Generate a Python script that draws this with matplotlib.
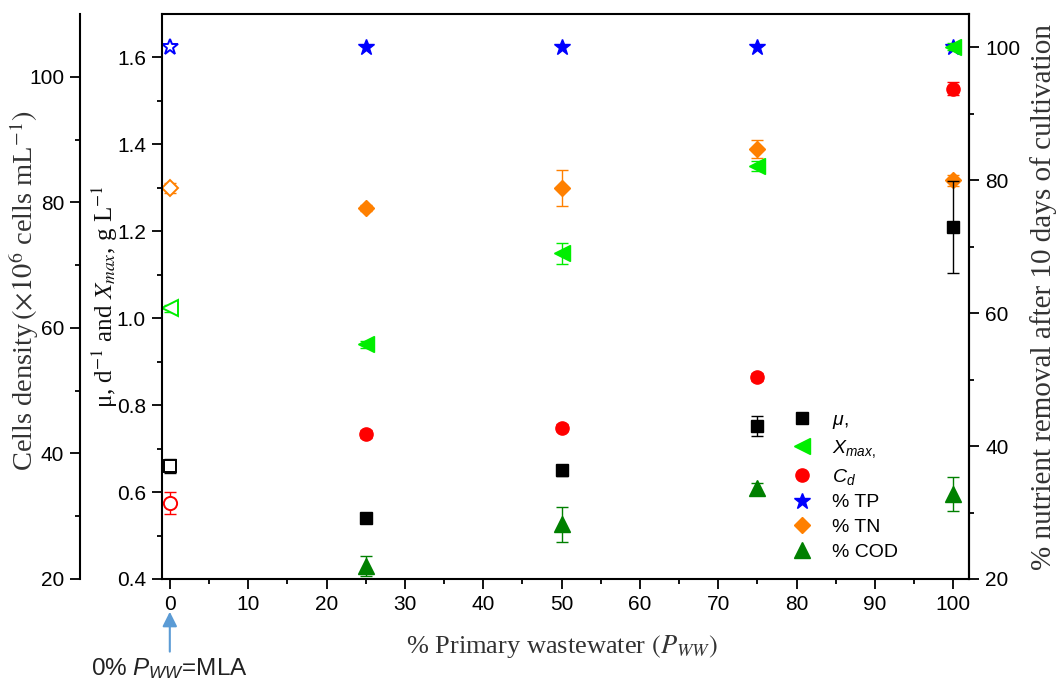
import numpy as np
import matplotlib
matplotlib.use('Agg')
import matplotlib.pyplot as plt
from matplotlib.ticker import MultipleLocator, FixedLocator

plt.rcParams['font.family'] = ['Liberation Sans', 'DejaVu Sans']
plt.rcParams['mathtext.fontset'] = 'custom'
plt.rcParams['mathtext.rm'] = 'Liberation Sans'
plt.rcParams['mathtext.it'] = 'Liberation Sans:italic'
plt.rcParams['mathtext.bf'] = 'Liberation Sans:bold'

# % primary wastewater in the medium (0 % = MLA)
pww = [0, 25, 50, 75, 100]

# specific growth rate, d-1
mu = [0.66, 0.54, 0.65, 0.752, 1.21]
mu_err = [0.016, 0.008, 0.012, 0.023, 0.105]

# maximum biomass, g L-1
xmax = [1.023, 0.94, 1.149, 1.35, 1.625]
xmax_err = [0.008, 0.008, 0.025, 0.012, 0.008]

# cell density, x10^6 cells mL-1
cd = [32.1, 43.1, 44.1, 52.2, 98.1]
cd_err = [1.7, 0.6, 0.6, 0.6, 1.0]

# nutrient removal after 10 days, %
tp = [100, 100, 100, 100, 100]
tn = [78.8, 75.8, 78.8, 84.7, 80.0]
tn_err = [0.8, 0.5, 2.7, 1.3, 0.8]
cod_x = [25, 50, 75, 100]
cod = [21.9, 28.2, 33.7, 32.8]
cod_err = [1.5, 2.6, 0.8, 2.6]

label_col = '#333333'
serif = ['Liberation Serif', 'DejaVu Serif']

fig = plt.figure(figsize=(10.6, 6.81), dpi=100)
fig.subplots_adjust(left=0.1528, right=0.9142, top=0.9794, bottom=0.1498)
ax = fig.add_subplot(111)
ax_cd = ax.twinx()
ax_pct = ax.twinx()


def draw(axis, x, y, err, marker, color, ms, label, hollow_first=True):
    if err is not None:
        axis.errorbar(x, y, yerr=err, fmt='none', ecolor=color, elinewidth=1,
                      capsize=4, capthick=1)
    start = 1 if hollow_first else 0
    h, = axis.plot(x[start:], y[start:], ls='none', marker=marker, color=color,
                   ms=ms, label=label)
    if hollow_first:
        axis.plot(x[:1], y[:1], ls='none', marker=marker, mfc='white', mec=color,
                  mew=1.4, ms=ms)
    return h


h_tp = draw(ax_pct, pww, tp, None, '*', '#0000ff', 12, '% TP')
h_tn = draw(ax_pct, pww, tn, tn_err, 'D', '#ff8000', 8.5, '% TN')
h_cod = draw(ax_pct, cod_x, cod, cod_err, '^', '#008000', 12, '% COD', hollow_first=False)
h_cd = draw(ax_cd, pww, cd, cd_err, 'o', '#ff0000', 9.5, '$C_d$')
h_x = draw(ax, pww, xmax, xmax_err, '<', '#00ee00', 11, '$X_{max,}$')
h_mu = draw(ax, pww, mu, mu_err, 's', '#000000', 8.5, r'$\mu,$')

# main axis on top so growth data sits over the removal markers
ax.set_zorder(ax_pct.get_zorder() + 1)
ax.patch.set_visible(False)

ax.set_xlim(-1, 102)
ax.xaxis.set_major_locator(MultipleLocator(10))
ax.xaxis.set_minor_locator(MultipleLocator(5))

ax.set_ylim(0.4, 1.7)
ax.yaxis.set_major_locator(FixedLocator(np.arange(0.4, 1.61, 0.2)))
ax.yaxis.set_minor_locator(FixedLocator(np.arange(0.5, 1.51, 0.2)))
ax.yaxis.set_major_formatter(plt.FuncFormatter(lambda v, p: f'{v:.1f}'))

ax_cd.set_ylim(20, 110)
ax_cd.yaxis.set_major_locator(FixedLocator([20, 40, 60, 80, 100]))
ax_cd.yaxis.set_minor_locator(FixedLocator([30, 50, 70, 90]))
ax_cd.spines['left'].set_position(('outward', 59))
ax_cd.yaxis.tick_left()
ax_cd.yaxis.set_label_position('left')
for s in ['right', 'top', 'bottom']:
    ax_cd.spines[s].set_visible(False)

ax_pct.set_ylim(20, 105)
ax_pct.yaxis.set_major_locator(FixedLocator([20, 40, 60, 80, 100]))
ax_pct.yaxis.set_minor_locator(FixedLocator([30, 50, 70, 90]))
for s in ['left', 'top', 'bottom']:
    ax_pct.spines[s].set_visible(False)

for a in [ax, ax_cd, ax_pct]:
    for s in a.spines.values():
        s.set_linewidth(1.5)
    a.tick_params(which='major', direction='out', length=7.5, width=1.3,
                  labelsize=15, pad=4)
    a.tick_params(which='minor', direction='out', length=3.5, width=1.3)

ax.set_xlabel(r'% Primary wastewater $\mathit{(P_{WW})}$', fontsize=19,
              family=serif, color=label_col, math_fontfamily='stix')
ax.xaxis.set_label_coords(0.496, -0.095)

ax.set_ylabel(r'μ, d$^{-1}$ and $X_{max}$, g L$^{-1}$', fontsize=18,
              family=serif, color='#111111', math_fontfamily='stix')
ax.yaxis.set_label_coords(-0.052, 0.5)

ax_cd.set_ylabel(r'Cells density$\,(\times10^{6}$ cells mL$^{-1})$', fontsize=20.5,
                 family=serif, color=label_col, math_fontfamily='stix')
ax_cd.yaxis.set_label_coords(-0.15, 0.51)

ax_pct.set_ylabel('% nutrient removal after 10 days of cultivation', fontsize=21,
                  family=serif, color=label_col)
ax_pct.yaxis.set_label_coords(1.075, 0.5)

ax.legend(handles=[h_mu, h_x, h_cd, h_tp, h_tn, h_cod], loc='upper left',
          bbox_to_anchor=(0.747, 0.396), bbox_transform=fig.transFigure,
          frameon=False, fontsize=14, handlelength=1.0, handletextpad=1.05,
          labelspacing=0.36, borderpad=0, borderaxespad=0)

# MLA control marker under the x axis
ax.annotate('0% $P_{WW}$=MLA', xy=(0, -0.058), xytext=(0, -0.158),
            xycoords=ax.get_xaxis_transform(), textcoords=ax.get_xaxis_transform(),
            ha='center', va='center', fontsize=17.5, color='#222222',
            arrowprops=dict(arrowstyle='-|>', color='#5b9bd5', lw=1.5,
                            mutation_scale=22, shrinkA=1, shrinkB=0),
            annotation_clip=False)

fig.savefig('out.png', dpi=100)
